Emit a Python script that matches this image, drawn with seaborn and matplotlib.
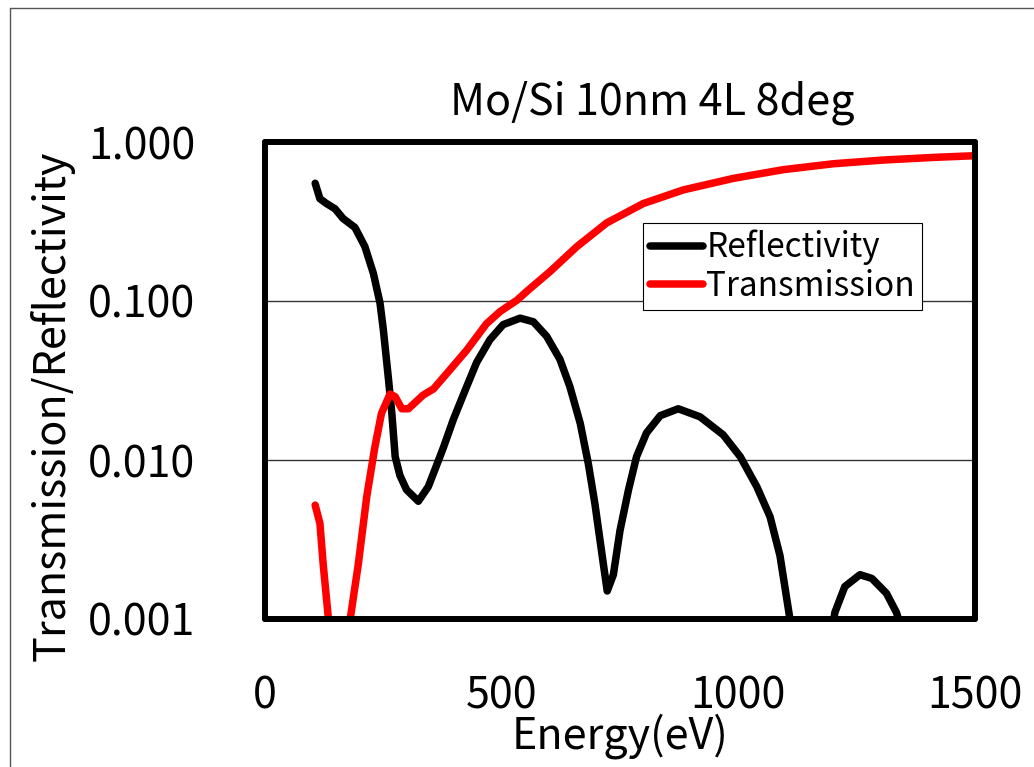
import pandas as pd
import matplotlib.pyplot as plt
import seaborn as sns
from matplotlib.lines import Line2D

# values
refl_energy = [106, 116, 130, 148, 165, 190, 211, 229, 243, 250, 261, 268, 275, 285,
               299, 324, 345, 359, 377, 398, 423, 447, 475, 503, 539, 567, 595, 623,
               644, 666, 683, 697, 715, 723, 736, 750, 768, 785, 806, 835, 873, 919,
               968, 1004, 1039, 1067, 1088, 1106, 1130, 1160, 1190, 1204, 1225, 1257,
               1282, 1313, 1334, 1355]
refl_value = [0.55, 0.44, 0.41, 0.38, 0.33, 0.29, 0.22, 0.149, 0.097, 0.066, 0.032,
              0.0196, 0.0105, 0.0080, 0.0065, 0.0055, 0.0068, 0.0087, 0.012, 0.018,
              0.0275, 0.041, 0.057, 0.071, 0.078, 0.074, 0.060, 0.043, 0.029, 0.017,
              0.0095, 0.0053, 0.0022, 0.0015, 0.0019, 0.0036, 0.0065, 0.0105, 0.0148,
              0.019, 0.021, 0.0187, 0.0144, 0.0105, 0.0068, 0.0044, 0.0025, 0.00114,
              0.0004, 0.0002, 0.0006, 0.0011, 0.0016, 0.0019, 0.0018, 0.00145, 0.0011,
              0.0007]

trans_energy = [106, 116, 123, 134, 146, 158, 170, 180, 197, 215, 232, 246, 264, 275,
                289, 303, 334, 356, 391, 426, 468, 497, 532, 556, 602, 659, 722, 799,
                884, 989, 1095, 1201, 1306, 1412, 1500]
trans_value = [0.0052, 0.004, 0.0022, 0.001, 0.0006, 0.00085, 0.0006, 0.001, 0.0022,
               0.0059, 0.012, 0.0196, 0.026, 0.025, 0.021, 0.021, 0.0256, 0.028, 0.037,
               0.049, 0.072, 0.086, 0.101, 0.117, 0.153, 0.22, 0.31, 0.41, 0.50, 0.59,
               0.67, 0.73, 0.77, 0.80, 0.82]

y_ticks = [0.001, 0.01, 0.1, 1.0]
x_ticks = [0, 500, 1000, 1500]

refl = pd.DataFrame({"Energy": refl_energy, "Value": refl_value})
trans = pd.DataFrame({"Energy": trans_energy, "Value": trans_value})

sns.set_style("white")
plt.rcParams["font.family"] = ["Noto Sans CJK JP", "DejaVu Sans"]
plt.rcParams["text.color"] = "black"
plt.rcParams["xtick.labelcolor"] = "black"
plt.rcParams["ytick.labelcolor"] = "black"
plt.rcParams["axes.labelcolor"] = "black"

fig = plt.figure(figsize=(10.34, 7.67), dpi=100)
ax = fig.add_axes([265 / 1034, 1 - 619 / 767, 710 / 1034, 477 / 767])

sns.lineplot(data=refl, x="Energy", y="Value", color="black", linewidth=5.4,
             label="Reflectivity", ax=ax, solid_capstyle="round", solid_joinstyle="round")
sns.lineplot(data=trans, x="Energy", y="Value", color="#ff0000", linewidth=5.4,
             label="Transmission", ax=ax, solid_capstyle="round", solid_joinstyle="round")

ax.set_yscale("log")
ax.set_xlim(0, 1500)
ax.set_ylim(0.001, 1.0)
ax.set_yticks(y_ticks)
ax.set_yticklabels([f"{v:.3f}" for v in y_ticks])
ax.set_xticks(x_ticks)
ax.minorticks_off()
ax.yaxis.grid(True, color="#333333", linewidth=1)
ax.tick_params(axis="both", direction="in", length=9, width=1, color="#555555",
               labelsize=31)
ax.tick_params(axis="x", pad=40)
ax.tick_params(axis="y", pad=50)
for sp in ax.spines.values():
    sp.set_linewidth(4.3)
    sp.set_color("black")
    sp.set_capstyle("round")

ax.set_xlabel("Energy(eV)", fontsize=31, labelpad=-4)
ax.set_ylabel("Transmission/Reflectivity", fontsize=31, va="center")
ax.yaxis.set_label_coords((52 - 265) / 710, (619 - 406) / 477)

fig.text(652 / 1034, 1 - 103 / 767, "Mo/Si 10nm 4L 8deg", fontsize=31,
         ha="center", va="center")

leg = ax.legend(loc="upper left", bbox_to_anchor=(643 / 1034, 1 - 223 / 767),
                bbox_transform=fig.transFigure, fontsize=24, frameon=True,
                fancybox=False, framealpha=1, edgecolor="black",
                handlelength=1.6, handletextpad=0.1, borderpad=0.2,
                labelspacing=0.1, borderaxespad=0)
leg.get_frame().set_linewidth(0.8)

# thin frame round the whole chart
fig.add_artist(Line2D([10 / 1034, 10 / 1034], [0, 1 - 8 / 767], color="#555555", lw=1))
fig.add_artist(Line2D([10 / 1034, 1], [1 - 8 / 767, 1 - 8 / 767], color="#555555", lw=1))

fig.savefig("out.png", dpi=100)
